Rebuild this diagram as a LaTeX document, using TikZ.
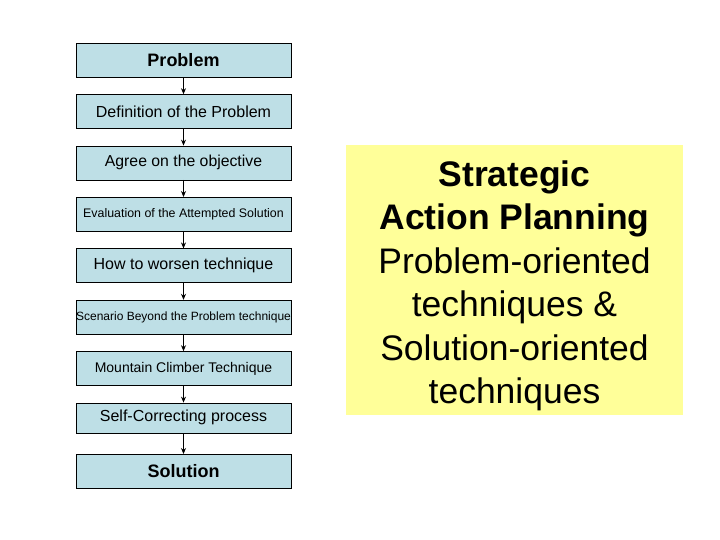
\documentclass[tikz,border=0pt]{standalone}
\usepackage{fontspec}
\setmainfont{Liberation Sans}
\usepackage{tikz}
\usetikzlibrary{positioning,arrows.meta}
\definecolor{stepblue}{HTML}{BEDFE6}
\definecolor{noteyellow}{HTML}{FFFF99}
\tikzset{
    stepbox/.style={draw=black,fill=stepblue,minimum width=215pt,minimum height=34pt,inner sep=0pt},
    flow/.style={draw,-{Stealth[length=6pt,width=5pt]},thick},
    plannote/.style={fill=noteyellow,minimum width=337pt,minimum height=270pt,inner sep=0pt},
}

\begin{document}
\begin{tikzpicture}[x=1pt,y=1pt,node distance=17pt]
    \useasboundingbox (0,0) rectangle (720,-540);
    \node[stepbox,font=\fontsize{18}{21}\selectfont\bfseries] (prob) at (183.5,-60) {Problem};
    \node[stepbox,below=of prob,font=\fontsize{16}{19}\selectfont] (defn) {Definition of the Problem};
    \node[stepbox,below=of defn,font=\fontsize{15.8}{19}\selectfont] (agree) {Agree on the objective};
    \node[stepbox,below=of agree,font=\fontsize{12.4}{15}\selectfont] (eval) {Evaluation of the Attempted Solution};
    \node[stepbox,below=of eval,font=\fontsize{16}{19}\selectfont] (worsen) {How to worsen technique};
    \node[stepbox,below=of worsen,font=\fontsize{12}{14}\selectfont] (beyond) {Scenario Beyond the Problem technique};
    \node[stepbox,below=of beyond,font=\fontsize{14}{17}\selectfont] (climb) {Mountain Climber Technique};
    \node[stepbox,below=of climb,minimum height=30pt,font=\fontsize{16}{19}\selectfont] (selfcor) {Self-Correcting process};
    \node[stepbox,below=21pt of selfcor,font=\fontsize{18}{21}\selectfont\bfseries] (sol) {Solution};
    \draw[flow] (prob)--(defn);
    \draw[flow] (defn)--(agree);
    \draw[flow] (agree)--(eval);
    \draw[flow] (eval)--(worsen);
    \draw[flow] (worsen)--(beyond);
    \draw[flow] (beyond)--(climb);
    \draw[flow] (climb)--(selfcor);
    \draw[flow] (selfcor)--(sol);
    \node[plannote] (plan) at (514.5,-280) {};
    \node[align=center,font=\fontsize{35.5}{43.5}\selectfont] (plantext) at ([yshift=-6pt]plan.center)
        {\textbf{Strategic}\\\textbf{Action Planning}\\Problem-oriented\\techniques \&\\Solution-oriented\\techniques};
\end{tikzpicture}
\end{document}
